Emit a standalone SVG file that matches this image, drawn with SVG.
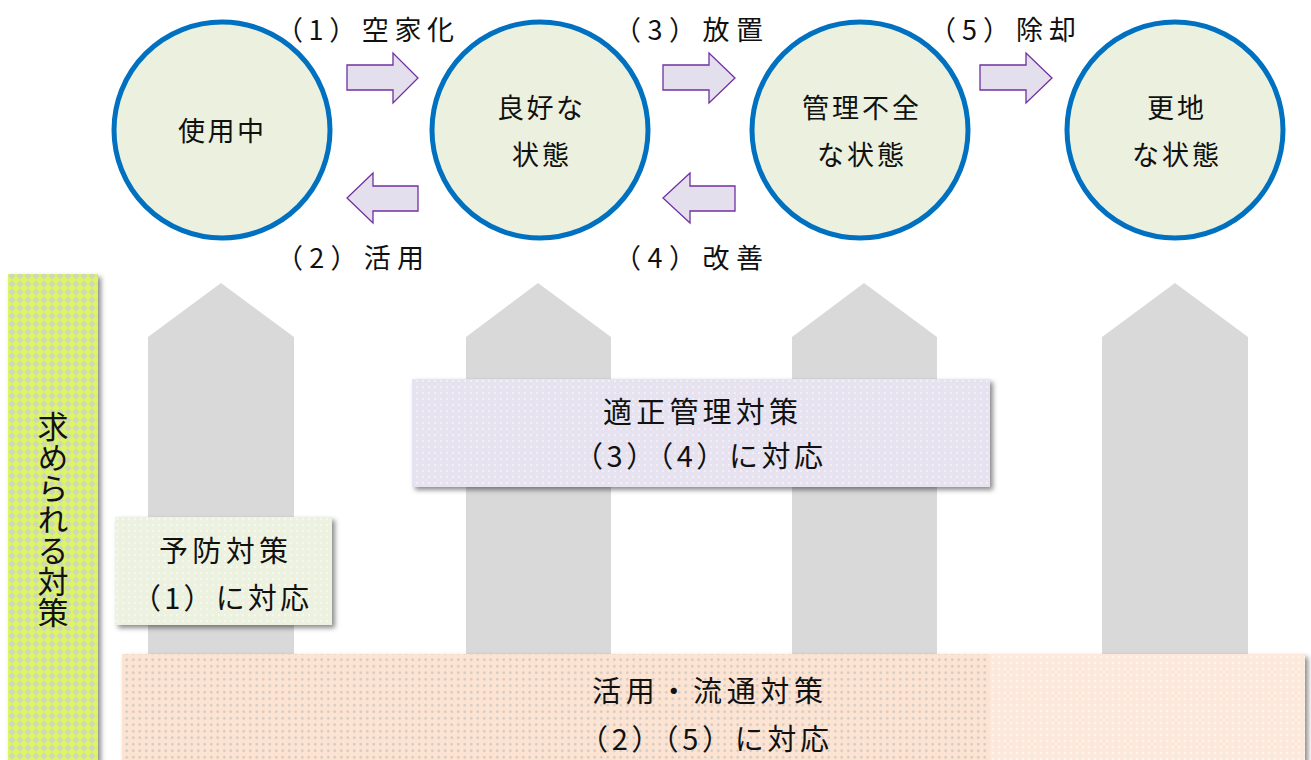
<svg xmlns="http://www.w3.org/2000/svg" width="1311" height="760" viewBox="0 0 1311 760">
<defs>
<style>
text{font-family:"Noto Sans CJK JP","Noto Sans",sans-serif;fill:#111;}
.node circle{fill:#ebf1de;stroke:#0070c0;stroke-width:5;}
.lbl{font-size:27px;}
.edge{font-size:27px;}
.arrow{fill:#e4dfec;stroke:#7030a0;stroke-width:1.3;}
.pillar{fill:#d9d9d9;}
.boxt{font-size:29px;}
</style>
<pattern id="pGreen" width="8" height="8" patternUnits="userSpaceOnUse">
<rect width="8" height="8" fill="#dcf565"/>
<path d="M4 0.5L7.5 4L4 7.5L0.5 4Z" fill="#d0d6bc"/>
</pattern>
<pattern id="pLightGreen" width="6" height="6" patternUnits="userSpaceOnUse">
<rect width="6" height="6" fill="#edf1df"/>
<circle cx="3" cy="3" r="1.1" fill="#f8faf2"/>
</pattern>
<pattern id="pLav" width="6" height="6" patternUnits="userSpaceOnUse">
<rect width="6" height="6" fill="#e6e2ef"/>
<circle cx="3" cy="3" r="1.1" fill="#f4f2f8"/>
</pattern>
<pattern id="pPeachGray" width="6.5" height="6.5" patternUnits="userSpaceOnUse">
<rect width="6.5" height="6.5" fill="#fde4d2"/>
<circle cx="3.25" cy="3.25" r="1.3" fill="#cfc9c6"/>
</pattern>
<pattern id="pPeach" width="6" height="6" patternUnits="userSpaceOnUse">
<rect width="6" height="6" fill="#fde9dc"/>
<circle cx="3" cy="3" r="1.2" fill="#fff6f0"/>
</pattern>
<filter id="sh" x="-10%" y="-10%" width="125%" height="130%">
<feDropShadow dx="3" dy="3" stdDeviation="2.5" flood-color="#000" flood-opacity="0.45"/>
</filter>
</defs>
<rect width="1311" height="760" fill="#fff"/>

<g id="pillars">
<polygon class="pillar" points="148,337 221,283 294,337 294,660 148,660"/>
<polygon class="pillar" points="466,337 538,283 611,337 611,660 466,660"/>
<polygon class="pillar" points="792,337 864,283 937,337 937,660 792,660"/>
<polygon class="pillar" points="1102,337 1175,283 1248,337 1248,660 1102,660"/>
</g>

<g id="side-label">
<rect x="8" y="274" width="90" height="500" fill="url(#pGreen)" filter="url(#sh)"/>
<text x="53" y="519" style="writing-mode:vertical-rl;font-size:31px;" text-anchor="middle" font-size="31">求められる対策</text>
</g>

<g id="node-shiyouchu" class="node">
<circle cx="222" cy="130" r="108"/>
<text class="lbl" x="178" y="141" textLength="86" lengthAdjust="spacing">使用中</text>
</g>
<g id="node-ryoukou" class="node">
<circle cx="540" cy="130" r="108"/>
<text class="lbl" x="497" y="118" textLength="86" lengthAdjust="spacing">良好な</text>
<text class="lbl" x="512" y="165" textLength="57" lengthAdjust="spacing">状態</text>
</g>
<g id="node-kanrifuzen" class="node">
<circle cx="860" cy="130" r="108"/>
<text class="lbl" x="802" y="118" textLength="117" lengthAdjust="spacing">管理不全</text>
<text class="lbl" x="817" y="165" textLength="87" lengthAdjust="spacing">な状態</text>
</g>
<g id="node-sarachi" class="node">
<circle cx="1175" cy="130" r="108"/>
<text class="lbl" x="1147" y="118" textLength="57" lengthAdjust="spacing">更地</text>
<text class="lbl" x="1132" y="165" textLength="87" lengthAdjust="spacing">な状態</text>
</g>

<g id="connectors">
<polygon class="arrow" points="347,65 393,65 393,53 418,78 393,103 393,90 347,90"/>
<polygon class="arrow" points="418,186 373,186 373,173 347,198 373,223 373,211 418,211"/>
<polygon class="arrow" points="663,65 709,65 709,53 735,78 709,103 709,90 663,90"/>
<polygon class="arrow" points="735,186 690,186 690,173 663,198 690,223 690,211 735,211"/>
<polygon class="arrow" points="980,65 1026,65 1026,53 1052,78 1026,103 1026,90 980,90"/>
<text class="edge" x="276" y="40" textLength="178" lengthAdjust="spacing">（1）空家化</text>
<text class="edge" x="276" y="268" textLength="148" lengthAdjust="spacing">（2）活用</text>
<text class="edge" x="614" y="40" textLength="149" lengthAdjust="spacing">（3）放置</text>
<text class="edge" x="614" y="268" textLength="149" lengthAdjust="spacing">（4）改善</text>
<text class="edge" x="929" y="40" textLength="147" lengthAdjust="spacing">（5）除却</text>
</g>

<g id="box-tekisei">
<rect x="412" y="379" width="578" height="108" fill="url(#pLav)" filter="url(#sh)"/>
<text class="boxt" x="603" y="423" textLength="195" lengthAdjust="spacing">適正管理対策</text>
<text class="boxt" x="574" y="467" textLength="249" lengthAdjust="spacing">（3）（4）に対応</text>
</g>

<g id="box-yobou">
<rect x="115" y="517" width="217" height="108" fill="url(#pLightGreen)" filter="url(#sh)"/>
<text class="boxt" x="159" y="562" textLength="129" lengthAdjust="spacing">予防対策</text>
<text class="boxt" x="132" y="609" textLength="177" lengthAdjust="spacing">（1）に対応</text>
</g>

<g id="box-katsuyou">
<rect x="122" y="654" width="1183" height="120" fill="url(#pPeach)" filter="url(#sh)"/>
<rect x="122" y="654" width="868" height="120" fill="url(#pPeachGray)"/>
<text class="boxt" x="592" y="702" textLength="231" lengthAdjust="spacing">活用・流通対策</text>
<text class="boxt" x="579" y="750" textLength="250" lengthAdjust="spacing">（2）（5）に対応</text>
</g>
</svg>
